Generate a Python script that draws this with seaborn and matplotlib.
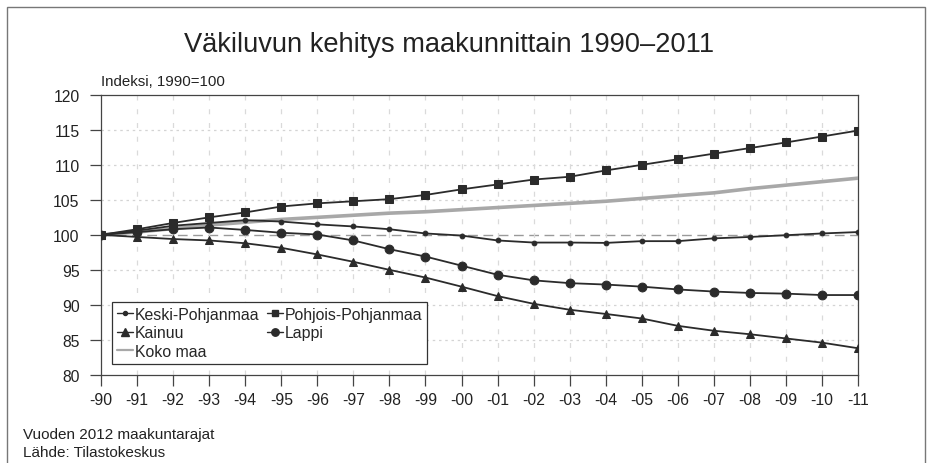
import matplotlib
matplotlib.use("Agg")
import matplotlib.pyplot as plt
import seaborn as sns
import pandas as pd
from matplotlib.patches import Rectangle
from matplotlib.lines import Line2D

years = list(range(1990, 2012))
tick_labels = ["-90", "-91", "-92", "-93", "-94", "-95", "-96", "-97", "-98", "-99",
               "-00", "-01", "-02", "-03", "-04", "-05", "-06", "-07", "-08", "-09",
               "-10", "-11"]

keski_pohjanmaa = [100, 100.6, 101.3, 101.7, 102.1, 101.9, 101.5, 101.2, 100.8, 100.2,
                   99.9, 99.2, 98.9, 98.9, 98.85, 99.1, 99.1, 99.5, 99.7, 99.95,
                   100.2, 100.4]
pohjois_pohjanmaa = [100, 100.8, 101.7, 102.5, 103.2, 104.05, 104.5, 104.8, 105.1, 105.7,
                     106.5, 107.2, 107.9, 108.3, 109.2, 110.0, 110.8, 111.6, 112.4, 113.2,
                     114.05, 114.9]
kainuu = [100, 99.7, 99.4, 99.2, 98.8, 98.15, 97.2, 96.15, 95.0, 93.9,
          92.6, 91.25, 90.15, 89.3, 88.7, 88.05, 87.0, 86.3, 85.8, 85.2,
          84.6, 83.8]
lappi = [100, 100.4, 100.8, 101.05, 100.7, 100.3, 100.05, 99.2, 97.95, 96.9,
         95.6, 94.3, 93.5, 93.1, 92.9, 92.6, 92.2, 91.9, 91.7, 91.6,
         91.4, 91.4]
koko_maa = [100, 100.4, 100.9, 101.4, 101.8, 102.2, 102.5, 102.8, 103.1, 103.3,
            103.6, 103.9, 104.2, 104.5, 104.8, 105.2, 105.6, 106.0, 106.6, 107.1,
            107.6, 108.1]

series_names = ["Keski-Pohjanmaa", "Pohjois-Pohjanmaa", "Kainuu", "Lappi", "Koko maa"]
y_ticks = [80, 85, 90, 95, 100, 105, 110, 115, 120]

title = "Väkiluvun kehitys maakunnittain 1990–2011"
ylabel = "Indeksi, 1990=100"
footer1 = "Vuoden 2012 maakuntarajat"
footer2 = "Lähde: Tilastokeskus"

sns.set_theme(style="white")
plt.rcParams["font.family"] = ["Liberation Sans", "DejaVu Sans"]

fig = plt.figure(figsize=(9.27, 4.64), dpi=100)
ax = fig.add_axes([0.109, 0.19, 0.8166, 0.6034])

dark = "#2b2b2b"
styles = {
    "Koko maa": dict(data=koko_maa, color="#a8a8a8", marker=None, ms=0, lw=2.6),
    "Keski-Pohjanmaa": dict(data=keski_pohjanmaa, color=dark, marker="o", ms=3.4, lw=1.3),
    "Pohjois-Pohjanmaa": dict(data=pohjois_pohjanmaa, color=dark, marker="s", ms=5.4, lw=1.3),
    "Kainuu": dict(data=kainuu, color=dark, marker="^", ms=6.2, lw=1.3),
    "Lappi": dict(data=lappi, color=dark, marker="o", ms=6.3, lw=1.3),
}

# grid
for yv in y_ticks:
    if yv == 100:
        ax.axhline(yv, color="#9a9a9a", lw=1.0, ls=(0, (7, 4)), zorder=1)
    elif yv not in (80, 120):
        ax.axhline(yv, color="#d4d4d4", lw=0.9, ls=(0, (2, 3)), zorder=1)
for xv in years[1:-1]:
    ax.axvline(xv, color="#dadada", lw=0.9, ls=(0, (4, 7)), zorder=1)

for name in ["Koko maa", "Keski-Pohjanmaa", "Pohjois-Pohjanmaa", "Kainuu", "Lappi"]:
    st = styles[name]
    df = pd.DataFrame({"year": years, "value": st["data"]})
    sns.lineplot(data=df, x="year", y="value", ax=ax, color=st["color"],
                 marker=st["marker"] if st["marker"] else None,
                 markersize=st["ms"], linewidth=st["lw"],
                 markeredgecolor=st["color"], markerfacecolor=st["color"],
                 zorder=3, legend=False)

ax.set_xlim(1990, 2011)
ax.set_ylim(80, 120)
ax.set_xticks(years)
ax.set_xticklabels(tick_labels)
ax.set_yticks(y_ticks)
ax.set_yticklabels([str(v) for v in y_ticks])
ax.set_xlabel("")
ax.set_ylabel("")
ax.tick_params(axis="both", direction="out", length=8, width=0.9, color="#444444",
               labelsize=11.3, labelcolor="#222222")
ax.tick_params(axis="x", bottom=True, pad=4.5)
ax.tick_params(axis="y", left=True, pad=7.5)
for sp in ax.spines.values():
    sp.set_visible(True)
    sp.set_color("#444444")
    sp.set_linewidth(0.9)

leg_order = ["Keski-Pohjanmaa", "Kainuu", "Koko maa", "Pohjois-Pohjanmaa", "Lappi"]
leg_handles = []
for n in leg_order:
    st = styles[n]
    leg_handles.append(Line2D([], [], color=st["color"], marker=st["marker"],
                              markersize=st["ms"] * 0.85, lw=1.0 if st["marker"] else 1.6))
leg = ax.legend(leg_handles, leg_order, ncol=2, loc="lower left",
                bbox_to_anchor=(0.0145, 0.04), frameon=True, fancybox=False,
                edgecolor="#333333", fontsize=11.4, handlelength=1.0,
                handletextpad=0.15, columnspacing=0.45, labelspacing=0.22,
                borderpad=0.3, borderaxespad=0)
leg.get_frame().set_linewidth(0.9)
leg.get_frame().set_alpha(1)

fig.text(0.484, 0.903, title, ha="center", va="center", fontsize=19.6, color="#222222")
fig.text(0.109, 0.823, ylabel, ha="left", va="center", fontsize=10.8, color="#222222")
fig.text(0.025, 0.062, footer1, ha="left", va="center", fontsize=11, color="#222222")
fig.text(0.025, 0.024, footer2, ha="left", va="center", fontsize=11, color="#222222")

fig.patches.append(Rectangle((0.0075, -0.05), 0.99, 1.033, transform=fig.transFigure,
                             fill=False, edgecolor="#777777", linewidth=1.0))

fig.savefig("out.png", dpi=100)
